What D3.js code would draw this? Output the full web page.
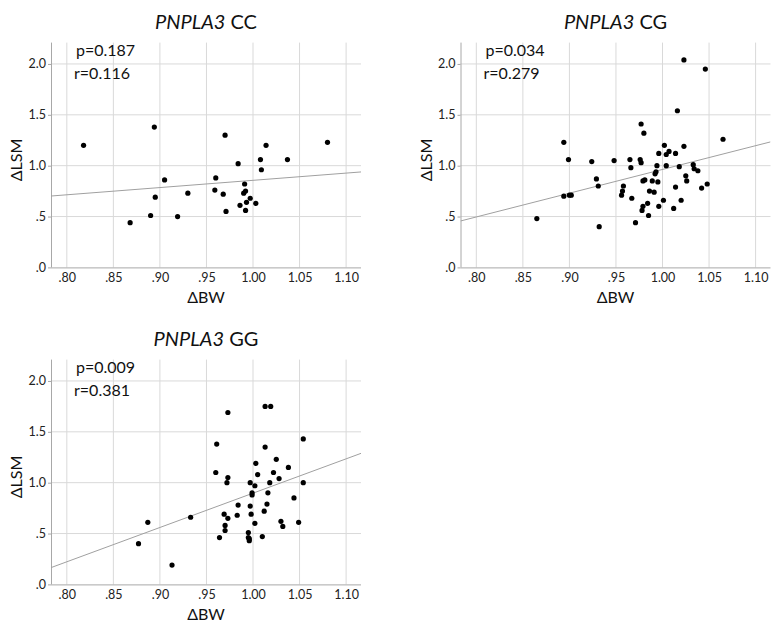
<!DOCTYPE html>
<html>
<head>
<meta charset="utf-8">
<script src="https://cdn.jsdelivr.net/npm/d3@7/dist/d3.min.js"></script>
<style>
  html, body { margin: 0; padding: 0; background: #fff; }
  svg { display: block; font-family: Lato, "Noto Sans", "DejaVu Sans", sans-serif; }
</style>
</head>
<body>
<svg id="chart" width="784" height="627"></svg>
<script>
// ---- data ----
const xTicks = [0.80, 0.85, 0.90, 0.95, 1.00, 1.05, 1.10];
const xTickLabels = [".80", ".85", ".90", ".95", "1.00", "1.05", "1.10"];
const yTicks = [0, 0.5, 1.0, 1.5, 2.0];
const yTickLabels = [".0", ".5", "1.0", "1.5", "2.0"];
const xTitle = "ΔBW";
const yTitle = "ΔLSM";
const geneName = "PNPLA3";
const genotypes = ["CC", "CG", "GG"];
const pValues = ["0.187", "0.034", "0.009"];
const rValues = ["0.116", "0.279", "0.381"];
// fitted line: [intercept, slope]
const fitIntercepts = [0.145, -1.372, -2.476];
const fitSlopes = [0.711, 2.335, 3.373];

const ccX = [0.818, 0.894, 0.970, 1.014, 1.080, 0.868, 0.890, 0.895, 0.905, 0.919, 0.930, 0.959, 0.960, 0.968, 0.971, 0.984, 0.986, 0.990, 0.991, 0.992, 0.992, 0.993, 0.997, 1.003, 1.008, 1.009, 1.037];
const ccY = [1.20, 1.38, 1.30, 1.20, 1.23, 0.44, 0.51, 0.69, 0.86, 0.50, 0.73, 0.76, 0.88, 0.72, 0.55, 1.02, 0.61, 0.73, 0.82, 0.75, 0.56, 0.64, 0.68, 0.63, 1.06, 0.96, 1.06];

const cgX = [1.023, 1.046, 1.016, 0.977, 0.980, 0.894, 1.002, 1.023, 1.065,
  0.899, 0.924, 0.948, 0.965, 0.966, 0.976, 0.977, 0.996, 1.004, 1.007, 1.014, 1.018, 1.004, 1.033, 1.034, 1.038, 1.025, 1.026, 1.048, 1.042, 1.014, 1.020, 1.012, 1.001, 0.996, 0.991, 0.995, 0.989, 0.992, 0.993, 0.994, 0.986, 0.984, 0.985, 0.979, 0.978, 0.979, 0.981, 0.971, 0.967, 0.958, 0.957, 0.956, 0.929, 0.931, 0.932, 0.894, 0.900, 0.902, 0.865];
const cgY = [2.04, 1.95, 1.54, 1.41, 1.32, 1.23, 1.20, 1.19, 1.26,
  1.06, 1.04, 1.05, 1.06, 0.98, 1.06, 1.03, 1.12, 1.11, 1.14, 1.12, 0.99, 1.00, 1.01, 0.97, 0.95, 0.90, 0.85, 0.82, 0.78, 0.79, 0.66, 0.58, 0.66, 0.60, 0.74, 0.84, 0.85, 0.92, 0.94, 1.00, 0.75, 0.63, 0.51, 0.60, 0.56, 0.85, 0.86, 0.44, 0.68, 0.80, 0.75, 0.71, 0.87, 0.80, 0.40, 0.70, 0.71, 0.71, 0.48];

const ggX = [0.973, 1.013, 1.019, 0.961, 1.013, 1.054,
  0.960, 0.973, 0.972, 1.003, 1.025, 1.022, 1.005, 1.038, 1.028, 1.018, 0.997, 1.002, 0.999, 0.999, 1.016, 1.054, 1.044, 0.984, 0.997, 1.015, 1.012, 0.998, 0.983, 0.969, 0.973, 0.970, 0.970, 1.002, 1.030, 1.032, 1.049, 0.964, 0.995, 0.995, 0.996, 0.996, 1.010, 0.933, 0.887, 0.877, 0.913];
const ggY = [1.69, 1.75, 1.75, 1.38, 1.35, 1.43,
  1.10, 1.05, 1.00, 1.19, 1.23, 1.10, 1.08, 1.15, 1.04, 1.00, 1.00, 0.97, 0.90, 0.88, 0.90, 1.00, 0.85, 0.78, 0.77, 0.79, 0.72, 0.69, 0.68, 0.69, 0.65, 0.58, 0.53, 0.60, 0.62, 0.57, 0.61, 0.46, 0.51, 0.46, 0.45, 0.43, 0.47, 0.66, 0.61, 0.40, 0.19];

const seriesX = [ccX, cgX, ggX];
const seriesY = [ccY, cgY, ggY];

// ---- layout ----
const PW = 310, PH = 224.8;
const panelLeft = [51, 460.5, 51];
const panelTop = [42.6, 42.6, 359.6];

const svg = d3.select("#chart");
const x = d3.scaleLinear().domain([0.783, 1.116]).range([0, PW]);
const y = d3.scaleLinear().domain([0, 2.21]).range([PH, 0]);

genotypes.forEach((g, i) => {
  const gp = svg.append("g").attr("transform", `translate(${panelLeft[i]},${panelTop[i]})`);
  const clipId = "clip" + i;
  gp.append("clipPath").attr("id", clipId).append("rect").attr("width", PW).attr("height", PH);

  // gridlines
  gp.append("g").selectAll("line.vg").data(xTicks).join("line")
    .attr("x1", d => x(d)).attr("x2", d => x(d)).attr("y1", 0).attr("y2", PH)
    .attr("stroke", "#d9d9d9").attr("stroke-width", 1);
  gp.append("g").selectAll("line.hg").data(yTicks.filter(d => d > 0)).join("line")
    .attr("x1", 0).attr("x2", PW).attr("y1", d => y(d)).attr("y2", d => y(d))
    .attr("stroke", "#d9d9d9").attr("stroke-width", 1);

  // axes
  const xAxis = d3.axisBottom(x).tickValues(xTicks).tickFormat((d, k) => xTickLabels[k]).tickSize(0).tickPadding(6);
  const yAxis = d3.axisLeft(y).tickValues(yTicks).tickFormat((d, k) => yTickLabels[k]).tickSize(3).tickPadding(2);
  const gx = gp.append("g").attr("transform", `translate(0,${PH})`).call(xAxis);
  const gy = gp.append("g").call(yAxis);
  [gx, gy].forEach(a => {
    a.select(".domain").attr("stroke", "#a8a8a8");
    a.selectAll(".tick line").attr("stroke", "#a8a8a8");
    a.selectAll(".tick text").attr("fill", "#222").style("font-size", "12.5px").style("font-family", "Lato, 'Noto Sans', sans-serif");
  });
  gx.select(".domain").attr("d", `M0,0.5H${PW}`);
  gy.select(".domain").attr("d", `M0.5,0V${PH}`);

  // regression line
  const fit = d => fitIntercepts[i] + fitSlopes[i] * d;
  const xd = x.domain();
  gp.append("line").attr("clip-path", `url(#${clipId})`)
    .attr("x1", x(xd[0])).attr("y1", y(fit(xd[0])))
    .attr("x2", x(xd[1])).attr("y2", y(fit(xd[1])))
    .attr("stroke", "#a0a0a0").attr("stroke-width", 1);

  // points
  const pts = seriesX[i].map((v, k) => [v, seriesY[i][k]]);
  gp.append("g").selectAll("circle").data(pts).join("circle")
    .attr("cx", d => x(d[0])).attr("cy", d => y(d[1])).attr("r", 2.6).attr("fill", "#000");

  // stats text
  gp.append("text").attr("x", 25).attr("y", 13.5).attr("font-size", 16).attr("fill", "#111").text("p=" + pValues[i]);
  gp.append("text").attr("x", 23).attr("y", 36.5).attr("font-size", 16).attr("fill", "#111").text("r=" + rValues[i]);

  // title
  const t = gp.append("text").attr("x", PW / 2).attr("y", -14).attr("text-anchor", "middle").attr("font-size", 20).attr("fill", "#111");
  t.append("tspan").attr("font-style", "italic").text(geneName);
  t.append("tspan").text(" " + g);

  // axis titles
  gp.append("text").attr("x", PW / 2).attr("y", PH + 36).attr("text-anchor", "middle").attr("font-size", 16).attr("fill", "#111").text(xTitle);
  gp.append("text").attr("transform", `translate(-29,${PH / 2 + 5}) rotate(-90)`).attr("text-anchor", "middle").attr("font-size", 16).attr("fill", "#111").text(yTitle);
});
</script>
</body>
</html>
